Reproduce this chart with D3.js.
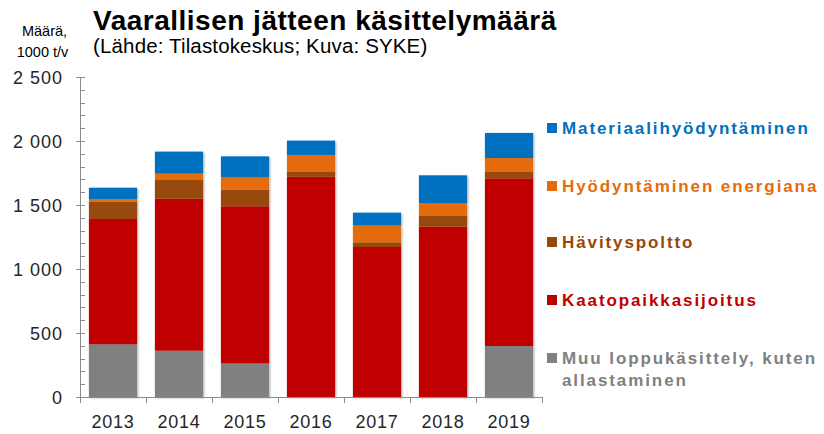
<!DOCTYPE html>
<html><head><meta charset="utf-8">
<script src="https://cdn.jsdelivr.net/npm/d3@7"></script>
<style>body{margin:0;background:#fff}svg{display:block;font-family:Arial,"Liberation Sans",sans-serif}</style>
</head><body><svg id="c" width="824" height="434"></svg>
<script>
const years = ["2013","2014","2015","2016","2017","2018","2019"];
const muu = [412, 362, 263, 0, 0, 0, 398];
const kaato = [979, 1187, 1227, 1721, 1172, 1331, 1310];
const havitys = [135, 146, 130, 37, 36, 83, 50];
const energia = [21, 50, 99, 133, 133, 99, 109];
const materiaali = [88, 172, 161, 112, 99, 219, 196];
const seriesNames = ["Muu loppukäsittely, kuten allastaminen","Kaatopaikkasijoitus","Hävityspoltto","Hyödyntäminen energiana","Materiaalihyödyntäminen"];
const seriesColors = ["#808080","#C00000","#984807","#E46C0A","#0070C0"];
const yTicks = [0,500,1000,1500,2000,2500];
const tickLabels = ["0","500","1 000","1 500","2 000","2 500"];

const svg = d3.select("#c");
const defs = svg.append("defs");
const f = defs.append("filter").attr("id","sh").attr("x","-10%").attr("y","-10%").attr("width","130%").attr("height","130%");
f.append("feGaussianBlur").attr("in","SourceAlpha").attr("stdDeviation",1.2);
f.append("feOffset").attr("dx",1).attr("dy",1).attr("result","o");
f.append("feComponentTransfer").append("feFuncA").attr("type","linear").attr("slope",0.35);
const m = f.append("feMerge"); m.append("feMergeNode"); m.append("feMergeNode").attr("in","SourceGraphic");

const x = d3.scaleBand().domain(years).range([80,542]).paddingInner(0.27).paddingOuter(0.135);
const y = d3.scaleLinear().domain([0,2500]).range([397,77]);

const data = years.map((yr,i)=>({year:yr, s0:muu[i], s1:kaato[i], s2:havitys[i], s3:energia[i], s4:materiaali[i]}));
const stack = d3.stack().keys(["s0","s1","s2","s3","s4"])(data);

const g = svg.append("g");
years.forEach((yr,i)=>{
  const col = g.append("g").attr("filter","url(#sh)");
  stack.forEach((layer,k)=>{
    const d = layer[i];
    if (d[1]-d[0] <= 0) return;
    col.append("rect").attr("x",x(yr)).attr("width",x.bandwidth())
      .attr("y",y(d[1])).attr("height",y(d[0])-y(d[1])).attr("fill",seriesColors[k]);
  });
});

// axes
const axc = "#8c8c8c";
svg.append("line").attr("x1",80.5).attr("x2",80.5).attr("y1",y(2500)).attr("y2",y(0)).attr("stroke",axc);
d3.range(0,2501,100).forEach(v=>{
  const major = v%500===0;
  svg.append("line").attr("x1",major?76:80.5).attr("x2",85).attr("y1",Math.round(y(v))+0.5).attr("y2",Math.round(y(v))+0.5).attr("stroke",axc);
});
yTicks.forEach((v,i)=>{
  svg.append("text").attr("x",63).attr("y",y(v)+6.5).attr("text-anchor","end")
    .attr("font-size",18).attr("letter-spacing",1).attr("fill","#262626").text(tickLabels[i]);
});
svg.append("line").attr("x1",80).attr("x2",542).attr("y1",397.5).attr("y2",397.5).attr("stroke",axc);
const step = x.step();
d3.range(0,8).forEach(i=>{
  const xx = Math.round(80+i*step)+0.5;
  svg.append("line").attr("x1",xx).attr("x2",xx).attr("y1",397).attr("y2",403).attr("stroke",axc);
});
years.forEach(yr=>{
  svg.append("text").attr("x",x(yr)+x.bandwidth()/2).attr("y",428).attr("text-anchor","middle")
    .attr("font-size",18).attr("letter-spacing",0.8).attr("fill","#262626").text(yr);
});

// titles
svg.append("text").attr("x",93).attr("y",30).attr("font-size",28).attr("font-weight","bold").attr("letter-spacing",0.5).attr("fill","#000").text("Vaarallisen jätteen käsittelymäärä");
svg.append("text").attr("x",93).attr("y",53).attr("font-size",20.5).attr("letter-spacing",0.15).attr("fill","#000").text("(Lähde: Tilastokeskus; Kuva: SYKE)");
svg.append("text").attr("x",44.5).attr("y",36).attr("text-anchor","middle").attr("font-size",14.5).attr("fill","#000").text("Määrä,");
svg.append("text").attr("x",42.5).attr("y",57).attr("text-anchor","middle").attr("font-size",14.5).attr("fill","#000").text("1000 t/v");

// legend
const legY = [128,186,242,300,358];
const legOrder = [4,3,2,1,0];
legOrder.forEach((k,j)=>{
  const cy = legY[j];
  svg.append("rect").attr("x",547).attr("y",cy-5).attr("width",10).attr("height",10).attr("fill",seriesColors[k]);
  const t = svg.append("text").attr("x",562).attr("y",cy+6).attr("font-size",17).attr("font-weight","bold")
    .attr("letter-spacing",1.9).attr("fill",seriesColors[k]);
  if (k===0) {
    t.append("tspan").attr("x",562).text("Muu loppukäsittely, kuten");
    t.append("tspan").attr("x",562).attr("dy",22).text("allastaminen");
  } else t.text(seriesNames[k]);
});
</script></body></html>
